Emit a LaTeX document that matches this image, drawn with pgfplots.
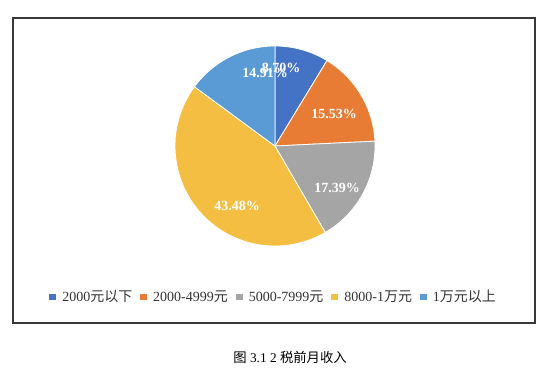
\documentclass[border=0pt]{standalone}
\usepackage{pgfplots}
\pgfplotsset{compat=1.18}
\usepackage{fontspec}
\setmainfont{Liberation Serif}
\newfontfamily\cjk{Noto Sans CJK SC}
\definecolor{cA}{HTML}{4472C4}
\definecolor{cB}{HTML}{E97C34}
\definecolor{cC}{HTML}{A5A5A5}
\definecolor{cD}{HTML}{F4BE42}
\definecolor{cE}{HTML}{5B9BD5}
% percentages
\def\pA{8.70}\def\pB{15.53}\def\pC{17.39}\def\pD{43.48}\def\pE{14.91}
\pgfmathsetmacro\aA{90}
\pgfmathsetmacro\aB{\aA-3.6*\pA}
\pgfmathsetmacro\aC{\aB-3.6*\pB}
\pgfmathsetmacro\aD{\aC-3.6*\pC}
\pgfmathsetmacro\aE{\aD-3.6*\pD}
\pgfmathsetmacro\aF{\aE-3.6*\pE}
\begin{document}
\begin{tikzpicture}
\begin{axis}[
  at={(0,0)}, anchor=south west,
  scale only axis, width=412.5pt, height=282pt,
  xmin=0, xmax=550, ymin=0, ymax=376,
  hide axis, clip=false,
  legend columns=5,
  legend style={at={(axis cs:274,79)}, anchor=center, draw=none, fill=none,
    font=\fontsize{10.5pt}{12pt}\selectfont, text=black!80,
    /tikz/every even column/.append style={column sep=4pt},
    /tikz/every odd column/.append style={column sep=2.5pt},
    inner sep=0pt, cells={anchor=west}},
  legend image code/.code={\fill[#1, draw=none] (0pt,-2.6pt) rectangle (5.2pt,2.6pt);},
]
\path (axis cs:0,0) rectangle (axis cs:550,376);
\draw[black!78, line width=1.1pt] (axis cs:13,53) rectangle (axis cs:535,358);
\addplot[fill=cA, draw=white, line width=0.6pt, domain=\aB:\aA, samples=40]
  ({275+100*cos(x)},{230+100*sin(x)}) -- (axis cs:275,230) -- cycle;
\addlegendentry{2000{\cjk 元以下}}
\addplot[fill=cB, draw=white, line width=0.6pt, domain=\aC:\aB, samples=60]
  ({275+100*cos(x)},{230+100*sin(x)}) -- (axis cs:275,230) -- cycle;
\addlegendentry{2000-4999{\cjk 元}}
\addplot[fill=cC, draw=white, line width=0.6pt, domain=\aD:\aC, samples=60]
  ({275+100*cos(x)},{230+100*sin(x)}) -- (axis cs:275,230) -- cycle;
\addlegendentry{5000-7999{\cjk 元}}
\addplot[fill=cD, draw=white, line width=0.6pt, domain=\aE:\aD, samples=120]
  ({275+100*cos(x)},{230+100*sin(x)}) -- (axis cs:275,230) -- cycle;
\addlegendentry{8000-1{\cjk 万元}}
\addplot[fill=cE, draw=white, line width=0.6pt, domain=\aF:\aE, samples=60]
  ({275+100*cos(x)},{230+100*sin(x)}) -- (axis cs:275,230) -- cycle;
\addlegendentry{1{\cjk 万元以上}}
\begin{scope}[every node/.style={text=white, font=\bfseries\fontsize{10.5pt}{12pt}\selectfont, inner sep=0pt}]
\node at (axis cs:265,303) {14.91\%};
\node at (axis cs:281,308) {8.70\%};
\node at (axis cs:334,262) {15.53\%};
\node at (axis cs:337,188) {17.39\%};
\node at (axis cs:237,170) {43.48\%};
\end{scope}
\node[font=\fontsize{10pt}{12pt}\selectfont] at (axis cs:290,19) {{\cjk 图} 3.1 2 {\cjk 税前月收入}};
\end{axis}
\end{tikzpicture}
\end{document}
